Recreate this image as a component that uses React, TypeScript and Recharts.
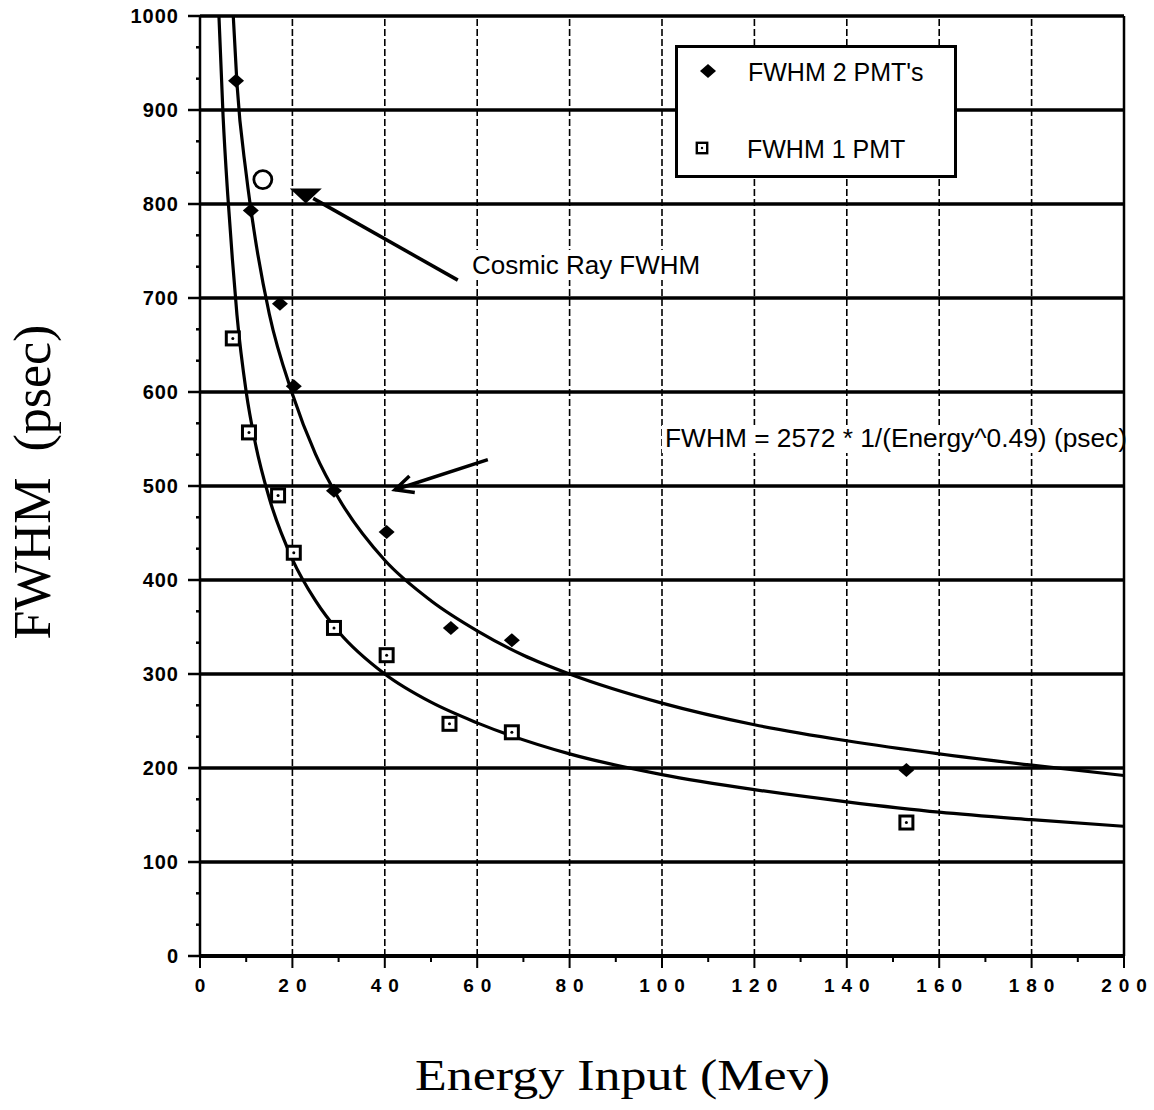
import React from 'react'
import { ComposedChart, Legend, Line, ReferenceLine, Scatter, XAxis, YAxis } from 'recharts'

const energyTicks = [0, 10, 20, 30, 40, 50, 60, 70, 80, 90, 100, 110, 120, 130, 140, 150, 160, 170, 180, 190, 200]
const energyGrid = [20, 40, 60, 80, 100, 120, 140, 160, 180]
const fwhmTicks = [0, 100, 200, 300, 400, 500, 600, 700, 800, 900, 1000]
const fwhmMinorTicks = [
  33.3, 66.7, 133.3, 166.7, 233.3, 266.7, 333.3, 366.7, 433.3, 466.7,
  533.3, 566.7, 633.3, 666.7, 733.3, 766.7, 833.3, 866.7, 933.3, 966.7
]

// measured points
const twoPmt = [
  { energy: 7.8, fwhm: 931 },
  { energy: 11, fwhm: 793 },
  { energy: 17.3, fwhm: 694 },
  { energy: 20.3, fwhm: 606 },
  { energy: 29, fwhm: 495 },
  { energy: 40.4, fwhm: 451 },
  { energy: 54.3, fwhm: 349 },
  { energy: 67.5, fwhm: 336 },
  { energy: 152.9, fwhm: 198 }
]
const onePmt = [
  { energy: 7.1, fwhm: 657 },
  { energy: 10.6, fwhm: 557 },
  { energy: 16.9, fwhm: 490 },
  { energy: 20.3, fwhm: 429 },
  { energy: 29, fwhm: 349 },
  { energy: 40.4, fwhm: 320 },
  { energy: 54, fwhm: 247 },
  { energy: 67.5, fwhm: 238 },
  { energy: 152.9, fwhm: 142 }
]

// fit curves
const twoPmtFit = [
  { energy: 7.2, fwhm: 1000 },
  { energy: 8, fwhm: 928 },
  { energy: 10, fwhm: 832 },
  { energy: 12, fwhm: 762 },
  { energy: 15, fwhm: 683 },
  { energy: 20, fwhm: 598 },
  { energy: 25, fwhm: 534 },
  { energy: 30, fwhm: 487 },
  { energy: 40, fwhm: 421 },
  { energy: 50, fwhm: 378 },
  { energy: 60, fwhm: 346 },
  { energy: 70, fwhm: 320 },
  { energy: 80, fwhm: 300 },
  { energy: 100, fwhm: 269 },
  { energy: 120, fwhm: 246 },
  { energy: 140, fwhm: 229 },
  { energy: 160, fwhm: 215 },
  { energy: 180, fwhm: 203 },
  { energy: 200, fwhm: 192 }
]
const onePmtFit = [
  { energy: 4.1, fwhm: 1000 },
  { energy: 5, fwhm: 893 },
  { energy: 6, fwhm: 810 },
  { energy: 7, fwhm: 742 },
  { energy: 8, fwhm: 682 },
  { energy: 10, fwhm: 600 },
  { energy: 12, fwhm: 545 },
  { energy: 15, fwhm: 487 },
  { energy: 20, fwhm: 422 },
  { energy: 25, fwhm: 378 },
  { energy: 30, fwhm: 345 },
  { energy: 40, fwhm: 300 },
  { energy: 50, fwhm: 270 },
  { energy: 60, fwhm: 248 },
  { energy: 80, fwhm: 215 },
  { energy: 100, fwhm: 193 },
  { energy: 120, fwhm: 177 },
  { energy: 140, fwhm: 164 },
  { energy: 160, fwhm: 153 },
  { energy: 180, fwhm: 145 },
  { energy: 200, fwhm: 138 }
]

const cosmicRay = [{ energy: 22.9, fwhm: 810 }]
const openMark = [{ energy: 13.6, fwhm: 826 }]

const cosmicArrow = [{ energy: 55.8, fwhm: 719 }, { energy: 24.5, fwhm: 806 }]
const fitArrow = [{ energy: 62.3, fwhm: 528 }, { energy: 42.2, fwhm: 496 }]

const sans = '"Liberation Sans", Arial, sans-serif'
const serif = '"Liberation Serif", "Times New Roman", serif'

function Diamond(props: any) {
  const { cx, cy } = props
  return <polygon points={`${cx - 8},${cy} ${cx},${cy - 7} ${cx + 8},${cy} ${cx},${cy + 7}`} fill="#000" />
}

function Square(props: any) {
  const { cx, cy } = props
  return (
    <g>
      <rect x={cx - 6.5} y={cy - 6.5} width={13} height={13} fill="#fff" stroke="#000" strokeWidth={3} />
      <circle cx={cx} cy={cy} r={1.5} fill="#000" />
    </g>
  )
}

function Flag(props: any) {
  const { cx, cy } = props
  return <polygon points={`${cx - 16},${cy - 6} ${cx + 16},${cy - 6} ${cx},${cy + 9}`} fill="#000" />
}

function OpenCircle(props: any) {
  const { cx, cy } = props
  return <circle cx={cx} cy={cy} r={9} fill="#fff" stroke="#000" strokeWidth={2.8} />
}

function Arrow(head: boolean) {
  return (props: any) => {
    const { x1, y1, x2, y2 } = props
    const a = Math.atan2(y2 - y1, x2 - x1)
    const l = 20
    const s = 0.45
    return (
      <g>
        <line x1={x1} y1={y1} x2={x2} y2={y2} stroke="#000" strokeWidth={3.5} />
        {head && (
          <path
            d={`M${x2 - l * Math.cos(a - s)},${y2 - l * Math.sin(a - s)} L${x2},${y2} L${x2 - l * Math.cos(a + s)},${y2 - l * Math.sin(a + s)}`}
            fill="none"
            stroke="#000"
            strokeWidth={3.5}
          />
        )}
      </g>
    )
  }
}

function XTick(props: any) {
  const { x, y, payload } = props
  const axisY = y - 10
  const major = payload.value % 20 === 0
  return (
    <g>
      <line x1={x} y1={axisY} x2={x} y2={axisY + (major ? 12 : 6)} stroke="#000" strokeWidth={2} />
      {major && (
        <text x={x + 3.5} y={axisY + 36} textAnchor="middle" fontFamily={sans} fontWeight="bold" fontSize={19} letterSpacing={7} fill="#000">
          {payload.value}
        </text>
      )}
    </g>
  )
}

function YTick(props: any) {
  const { x, y, payload } = props
  const axisX = x + 12
  const major = fwhmTicks.includes(payload.value)
  return (
    <g>
      <line x1={axisX} y1={y} x2={axisX - (major ? 12 : 4)} y2={y} stroke="#000" strokeWidth={2.5} />
      {major && (
        <text x={axisX - 21} y={y + 7} textAnchor="end" fontFamily={sans} fontWeight="bold" fontSize={20} letterSpacing={1} fill="#000">
          {payload.value}
        </text>
      )}
    </g>
  )
}

function LegendBox() {
  return (
    <svg width={282} height={133} style={{ display: 'block' }}>
      <rect x={1.5} y={1.5} width={279} height={130} fill="#fff" stroke="#000" strokeWidth={3} />
      <Diamond cx={33} cy={26} />
      <text x={73} y={36} fontFamily={sans} fontSize={25} fill="#000">FWHM 2 PMT's</text>
      <g transform="translate(27 103) scale(0.8)">
        <Square cx={0} cy={0} />
      </g>
      <text x={72} y={113} fontFamily={sans} fontSize={25} fill="#000">FWHM 1 PMT</text>
    </svg>
  )
}

export default function App() {
  const allY = [...fwhmTicks, ...fwhmMinorTicks].sort((a, b) => a - b)
  return (
    <div style={{ position: 'relative', width: 1154, height: 1110, background: '#fff' }}>
      <style>{'body{margin:0}'}</style>
      <ComposedChart width={1154} height={1110} margin={{ top: 16, right: 30, bottom: 0, left: 0 }}>
        <XAxis
          dataKey="energy"
          type="number"
          domain={[0, 200]}
          ticks={energyTicks}
          interval={0}
          height={154}
          tickSize={10}
          tickMargin={0}
          tickLine={false}
          tick={<XTick />}
          axisLine={{ stroke: '#000', strokeWidth: 4 }}
          allowDataOverflow
        />
        <YAxis
          dataKey="fwhm"
          type="number"
          domain={[0, 1000]}
          ticks={allY}
          interval={0}
          width={200}
          tickSize={10}
          tickMargin={2}
          tickLine={false}
          tick={<YTick />}
          axisLine={{ stroke: '#000', strokeWidth: 2.5 }}
          allowDataOverflow
        />
        {energyGrid.map((e) => (
          <ReferenceLine key={'v' + e} x={e} stroke="#000" strokeWidth={1.6} strokeDasharray="7 3" />
        ))}
        <ReferenceLine x={200} stroke="#000" strokeWidth={2.5} />
        {fwhmTicks.slice(1).map((v) => (
          <ReferenceLine key={'h' + v} y={v} stroke="#000" strokeWidth={3.5} />
        ))}
        <ReferenceLine
          segment={cosmicArrow.map((p) => ({ x: p.energy, y: p.fwhm }))}
          shape={Arrow(false)}
        />
        <ReferenceLine
          segment={fitArrow.map((p) => ({ x: p.energy, y: p.fwhm }))}
          shape={Arrow(true)}
        />
        <Line data={twoPmtFit} dataKey="fwhm" type="monotone" stroke="#000" strokeWidth={3.2} dot={false} isAnimationActive={false} legendType="none" />
        <Line data={onePmtFit} dataKey="fwhm" type="monotone" stroke="#000" strokeWidth={3.2} dot={false} isAnimationActive={false} legendType="none" />
        <Scatter data={twoPmt} dataKey="fwhm" name="FWHM 2 PMT's" shape={<Diamond />} isAnimationActive={false} />
        <Scatter data={onePmt} dataKey="fwhm" name="FWHM 1 PMT" shape={<Square />} isAnimationActive={false} />
        <Scatter data={cosmicRay} dataKey="fwhm" shape={<Flag />} isAnimationActive={false} legendType="none" />
        <Scatter data={openMark} dataKey="fwhm" shape={<OpenCircle />} isAnimationActive={false} legendType="none" />
        <Legend
          layout="vertical"
          align="center"
          verticalAlign="middle"
          wrapperStyle={{ left: 675, top: 45, width: 282, height: 133 }}
          content={() => <LegendBox />}
        />
      </ComposedChart>
      <svg width={1154} height={1110} style={{ position: 'absolute', left: 0, top: 0, pointerEvents: 'none' }}>
        <rect x={468} y={250} width={242} height={30} fill="#fff" />
        <text x={472} y={274} fontFamily={sans} fontSize={26} fill="#000">Cosmic Ray FWHM</text>
        <rect x={662} y={425} width={460} height={28} fill="#fff" />
        <text x={665} y={447} fontFamily={sans} fontSize={26} fill="#000" textLength={462} lengthAdjust="spacingAndGlyphs">
          FWHM = 2572 * 1/(Energy^0.49) (psec)
        </text>
        <text
          x={50}
          y={482}
          transform="rotate(-90 50 482)"
          textAnchor="middle"
          fontFamily={serif}
          fontSize={52}
          fill="#000"
          style={{ whiteSpace: 'pre' }}
        >
          {'FWHM  (psec)'}
        </text>
        <text x={415} y={1090} fontFamily={serif} fontSize={44} textLength={415} lengthAdjust="spacingAndGlyphs" fill="#000">
          Energy Input (Mev)
        </text>
      </svg>
    </div>
  )
}
